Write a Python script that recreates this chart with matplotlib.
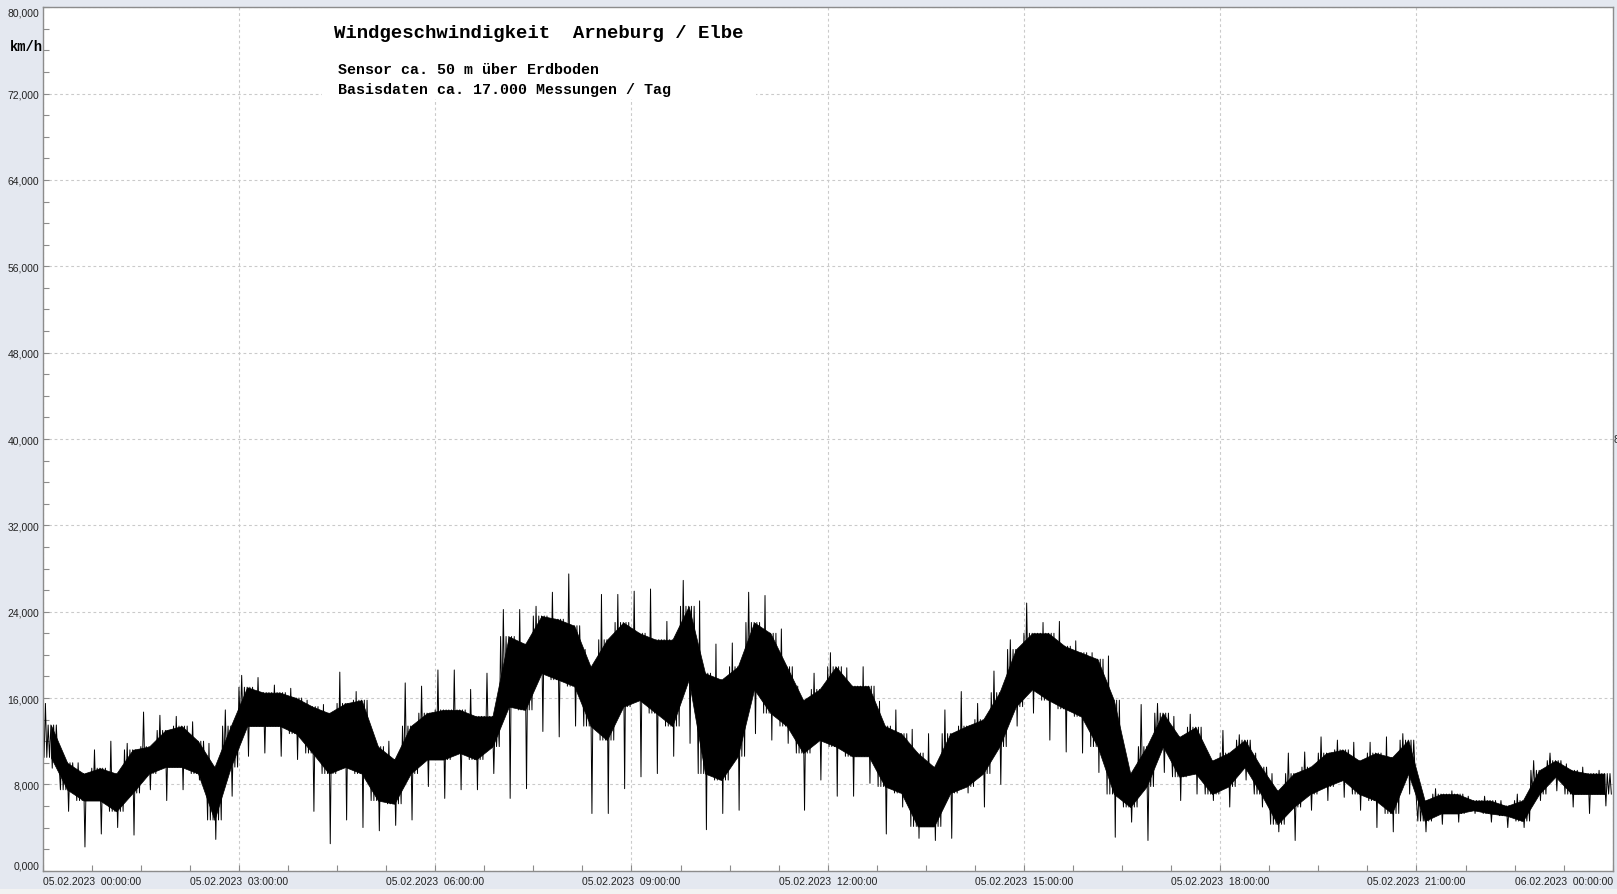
import numpy as np
import matplotlib
matplotlib.use("Agg")
import matplotlib.pyplot as plt
from matplotlib.patches import Rectangle
from datetime import datetime, timedelta

# wind speed in km/h in 15-minute buckets (05.02.2023 00:00 .. 24:00)
# band_* = dense black core, peak_* = extreme spikes inside the bucket
band_lo = [10.5, 7.5, 6.5, 6.5, 5.5, 7.2, 9.0, 9.6, 9.6, 9.0, 4.7, 9.6,
           13.4, 13.4, 13.4, 12.7, 10.9, 9.0, 9.6, 9.0, 6.5, 6.2, 9.0, 10.3,
           10.3, 10.9, 10.3, 11.5, 15.2, 14.9, 18.3, 17.7, 17.1, 13.4, 12.1, 15.2,
           15.8, 14.6, 13.4, 17.7, 9.0, 8.4, 10.6, 16.8, 14.6, 13.4, 10.9, 12.1,
           11.5, 10.6, 10.6, 7.8, 7.2, 4.1, 4.1, 7.2, 7.8, 9.0, 11.5, 15.2,
           16.8, 15.8, 15.0, 14.3, 11.5, 7.1, 5.9, 7.8, 11.5, 8.7, 9.0, 7.1,
           7.8, 9.6, 7.1, 4.3, 5.9, 7.1, 7.8, 8.4, 7.1, 6.5, 5.3, 9.0,
           4.6, 5.3, 5.3, 5.6, 5.3, 5.1, 4.6, 7.1, 8.7, 7.1, 7.1, 7.1]
band_hi = [13.5, 10.0, 9.0, 9.5, 9.0, 11.2, 11.5, 13.0, 13.4, 12.0, 9.6, 13.4,
           17.0, 16.5, 16.5, 16.0, 15.2, 14.6, 15.5, 15.8, 11.5, 10.3, 13.4, 14.6,
           14.9, 14.9, 14.3, 14.3, 21.7, 21.0, 23.6, 23.3, 22.7, 18.9, 21.4, 23.0,
           22.0, 21.4, 21.4, 24.5, 18.3, 17.7, 18.9, 23.0, 22.0, 18.9, 15.8, 16.8,
           18.9, 17.1, 17.1, 13.4, 12.7, 10.9, 9.6, 12.7, 13.4, 14.0, 16.5, 20.5,
           22.0, 22.0, 20.8, 20.2, 19.6, 15.8, 9.0, 11.5, 14.6, 12.4, 13.3, 10.2,
           10.9, 12.1, 9.6, 7.4, 9.0, 9.6, 10.9, 11.2, 10.2, 10.9, 10.5, 12.1,
           6.5, 7.1, 7.1, 6.5, 6.5, 6.0, 6.5, 9.3, 10.2, 9.3, 9.0, 9.0]
peak_lo = [9.5, 5.5, 2.2, 3.4, 4.0, 3.3, 7.5, 6.5, 7.5, 8.4, 2.9, 6.9,
           10.6, 10.9, 10.6, 10.3, 5.5, 2.5, 4.7, 4.0, 3.7, 4.2, 4.7, 7.8,
           6.7, 7.5, 7.5, 9.0, 6.7, 7.6, 12.9, 12.4, 13.4, 5.3, 5.3, 7.6,
           8.7, 9.0, 10.6, 11.8, 3.8, 5.3, 5.6, 12.7, 12.1, 11.8, 5.6, 8.4,
           6.9, 6.9, 8.1, 3.4, 5.9, 3.0, 2.8, 3.0, 7.2, 5.9, 8.0, 13.4,
           14.6, 12.1, 11.0, 10.9, 9.1, 3.1, 4.5, 2.8, 9.1, 6.5, 7.1, 6.5,
           5.9, 8.4, 5.9, 3.6, 2.8, 5.6, 6.5, 6.8, 5.6, 4.0, 3.6, 7.1,
           3.6, 4.3, 4.5, 5.3, 4.5, 4.0, 4.0, 6.5, 7.4, 5.9, 5.3, 6.0]
peak_hi = [15.5, 11.0, 10.0, 11.2, 12.0, 11.8, 14.7, 14.4, 14.3, 13.8, 11.8, 14.9,
           18.1, 17.9, 17.2, 16.9, 15.8, 15.4, 18.4, 16.6, 12.9, 12.0, 17.4, 17.1,
           18.6, 18.6, 16.8, 18.3, 24.2, 24.2, 24.5, 25.8, 27.5, 20.5, 25.6, 25.6,
           25.9, 26.1, 23.1, 26.9, 25.0, 21.0, 21.1, 25.8, 25.5, 22.4, 17.1, 18.3,
           20.2, 18.8, 18.9, 15.7, 14.9, 13.1, 12.7, 14.9, 16.6, 15.5, 18.5, 21.4,
           24.8, 23.0, 23.1, 21.3, 20.2, 19.9, 10.5, 15.4, 15.5, 14.3, 14.5, 10.9,
           13.0, 12.6, 10.9, 9.0, 10.9, 11.0, 12.4, 12.1, 11.9, 11.9, 12.4, 12.7,
           7.6, 7.6, 7.4, 6.9, 6.9, 6.5, 7.1, 10.2, 10.9, 9.9, 9.6, 9.3]

day_start = datetime(2023, 2, 5)
x_tick_hours = list(range(0, 25, 3))
x_tick_labels = [(day_start + timedelta(hours=h)).strftime("%d.%m.%Y  %H:%M:%S")
                 for h in x_tick_hours]
y_ticks = list(range(0, 81, 8))
y_tick_labels = [f"{v:.3f}".replace(".", ",") for v in y_ticks]

title = "Windgeschwindigkeit  Arneburg / Elbe"
sub1 = "Sensor ca. 50 m über Erdboden"
sub2 = "Basisdaten ca. 17.000 Messungen / Tag"

W, H = 1617, 895
fig = plt.figure(figsize=(W / 100, H / 100), dpi=100, facecolor="#E4E8F0")
fig.add_artist(Rectangle((0, 0), 1, 5 / H, transform=fig.transFigure,
                         facecolor="#F2F2F2", edgecolor="none"))
ax = fig.add_axes([42.7 / W, 1 - 871.7 / H, 1570 / W, 863.4 / H])
ax.set_facecolor("white")

n = len(band_lo)
bucket = 0.25  # hours
centers = (np.arange(n) + 0.5) * bucket

# solid core of the trace
ax.fill_between(centers, band_lo, band_hi, color="black", lw=0.5, zorder=2)

# each bucket also drawn as a zig-zag between its core and its spikes
vals = np.column_stack([band_hi, band_lo, peak_hi, band_lo, band_hi, band_lo,
                        band_hi, peak_lo, band_hi, band_lo, band_hi, band_lo]).ravel()
steps = vals.size // n
t = (np.arange(n)[:, None] + np.arange(steps)[None, :] / steps).ravel() * bucket
ax.plot(t, vals, color="black", lw=0.7, zorder=2)

ax.set_xlim(0, 24)
ax.set_ylim(0, 80)
ax.set_xticks(x_tick_hours, x_tick_labels)
ax.set_xticks(np.arange(0, 24.01, 0.75), minor=True)
ax.set_yticks(y_ticks, y_tick_labels)
ax.set_yticks(np.arange(0, 81, 2), minor=True)
ax.tick_params(which="both", direction="in", length=4, width=0.8, color="#8C8C8C",
               labelsize=7.5, labelcolor="#222222")
ax.tick_params(axis="x", pad=4)
ax.tick_params(axis="y", pad=2.5)
for lab in ax.get_xticklabels() + ax.get_yticklabels():
    lab.set_fontfamily("Liberation Sans")
xl = ax.get_xticklabels()
xl[0].set_ha("left")
xl[-1].set_ha("right")
yl = ax.get_yticklabels()
yl[0].set_va("bottom")
yl[-1].set_va("top")

ax.set_axisbelow(True)
ax.grid(True, which="major", color="#CACACA", linestyle=(0, (2.5, 2.5)), linewidth=0.8)
for s in ax.spines.values():
    s.set_color("#8C8C8C")
    s.set_linewidth(1.0)

# white label box that hides the grid behind the title block
ax.add_patch(Rectangle((322 / W, 1 - 100 / H), 434 / W, 91 / H, transform=fig.transFigure,
                       facecolor="white", edgecolor="none", zorder=1))

mono = "Liberation Mono"
fig.text(334 / W, 1 - 33 / H, title, family=mono, weight="bold", size=13.7,
         ha="left", va="center")
fig.text(338 / W, 1 - 70 / H, sub1, family=mono, weight="bold", size=10.8,
         ha="left", va="center")
fig.text(338 / W, 1 - 90 / H, sub2, family=mono, weight="bold", size=10.8,
         ha="left", va="center")
fig.text(10 / W, 1 - 47 / H, "km/h", family=mono, weight="bold", size=9.9,
         ha="left", va="center")
fig.text(1613.5 / W, 1 - 440 / H, "8", family="Liberation Sans", size=7.5,
         color="#222222", ha="left", va="center")

fig.savefig("out.png", dpi=100, facecolor=fig.get_facecolor())
